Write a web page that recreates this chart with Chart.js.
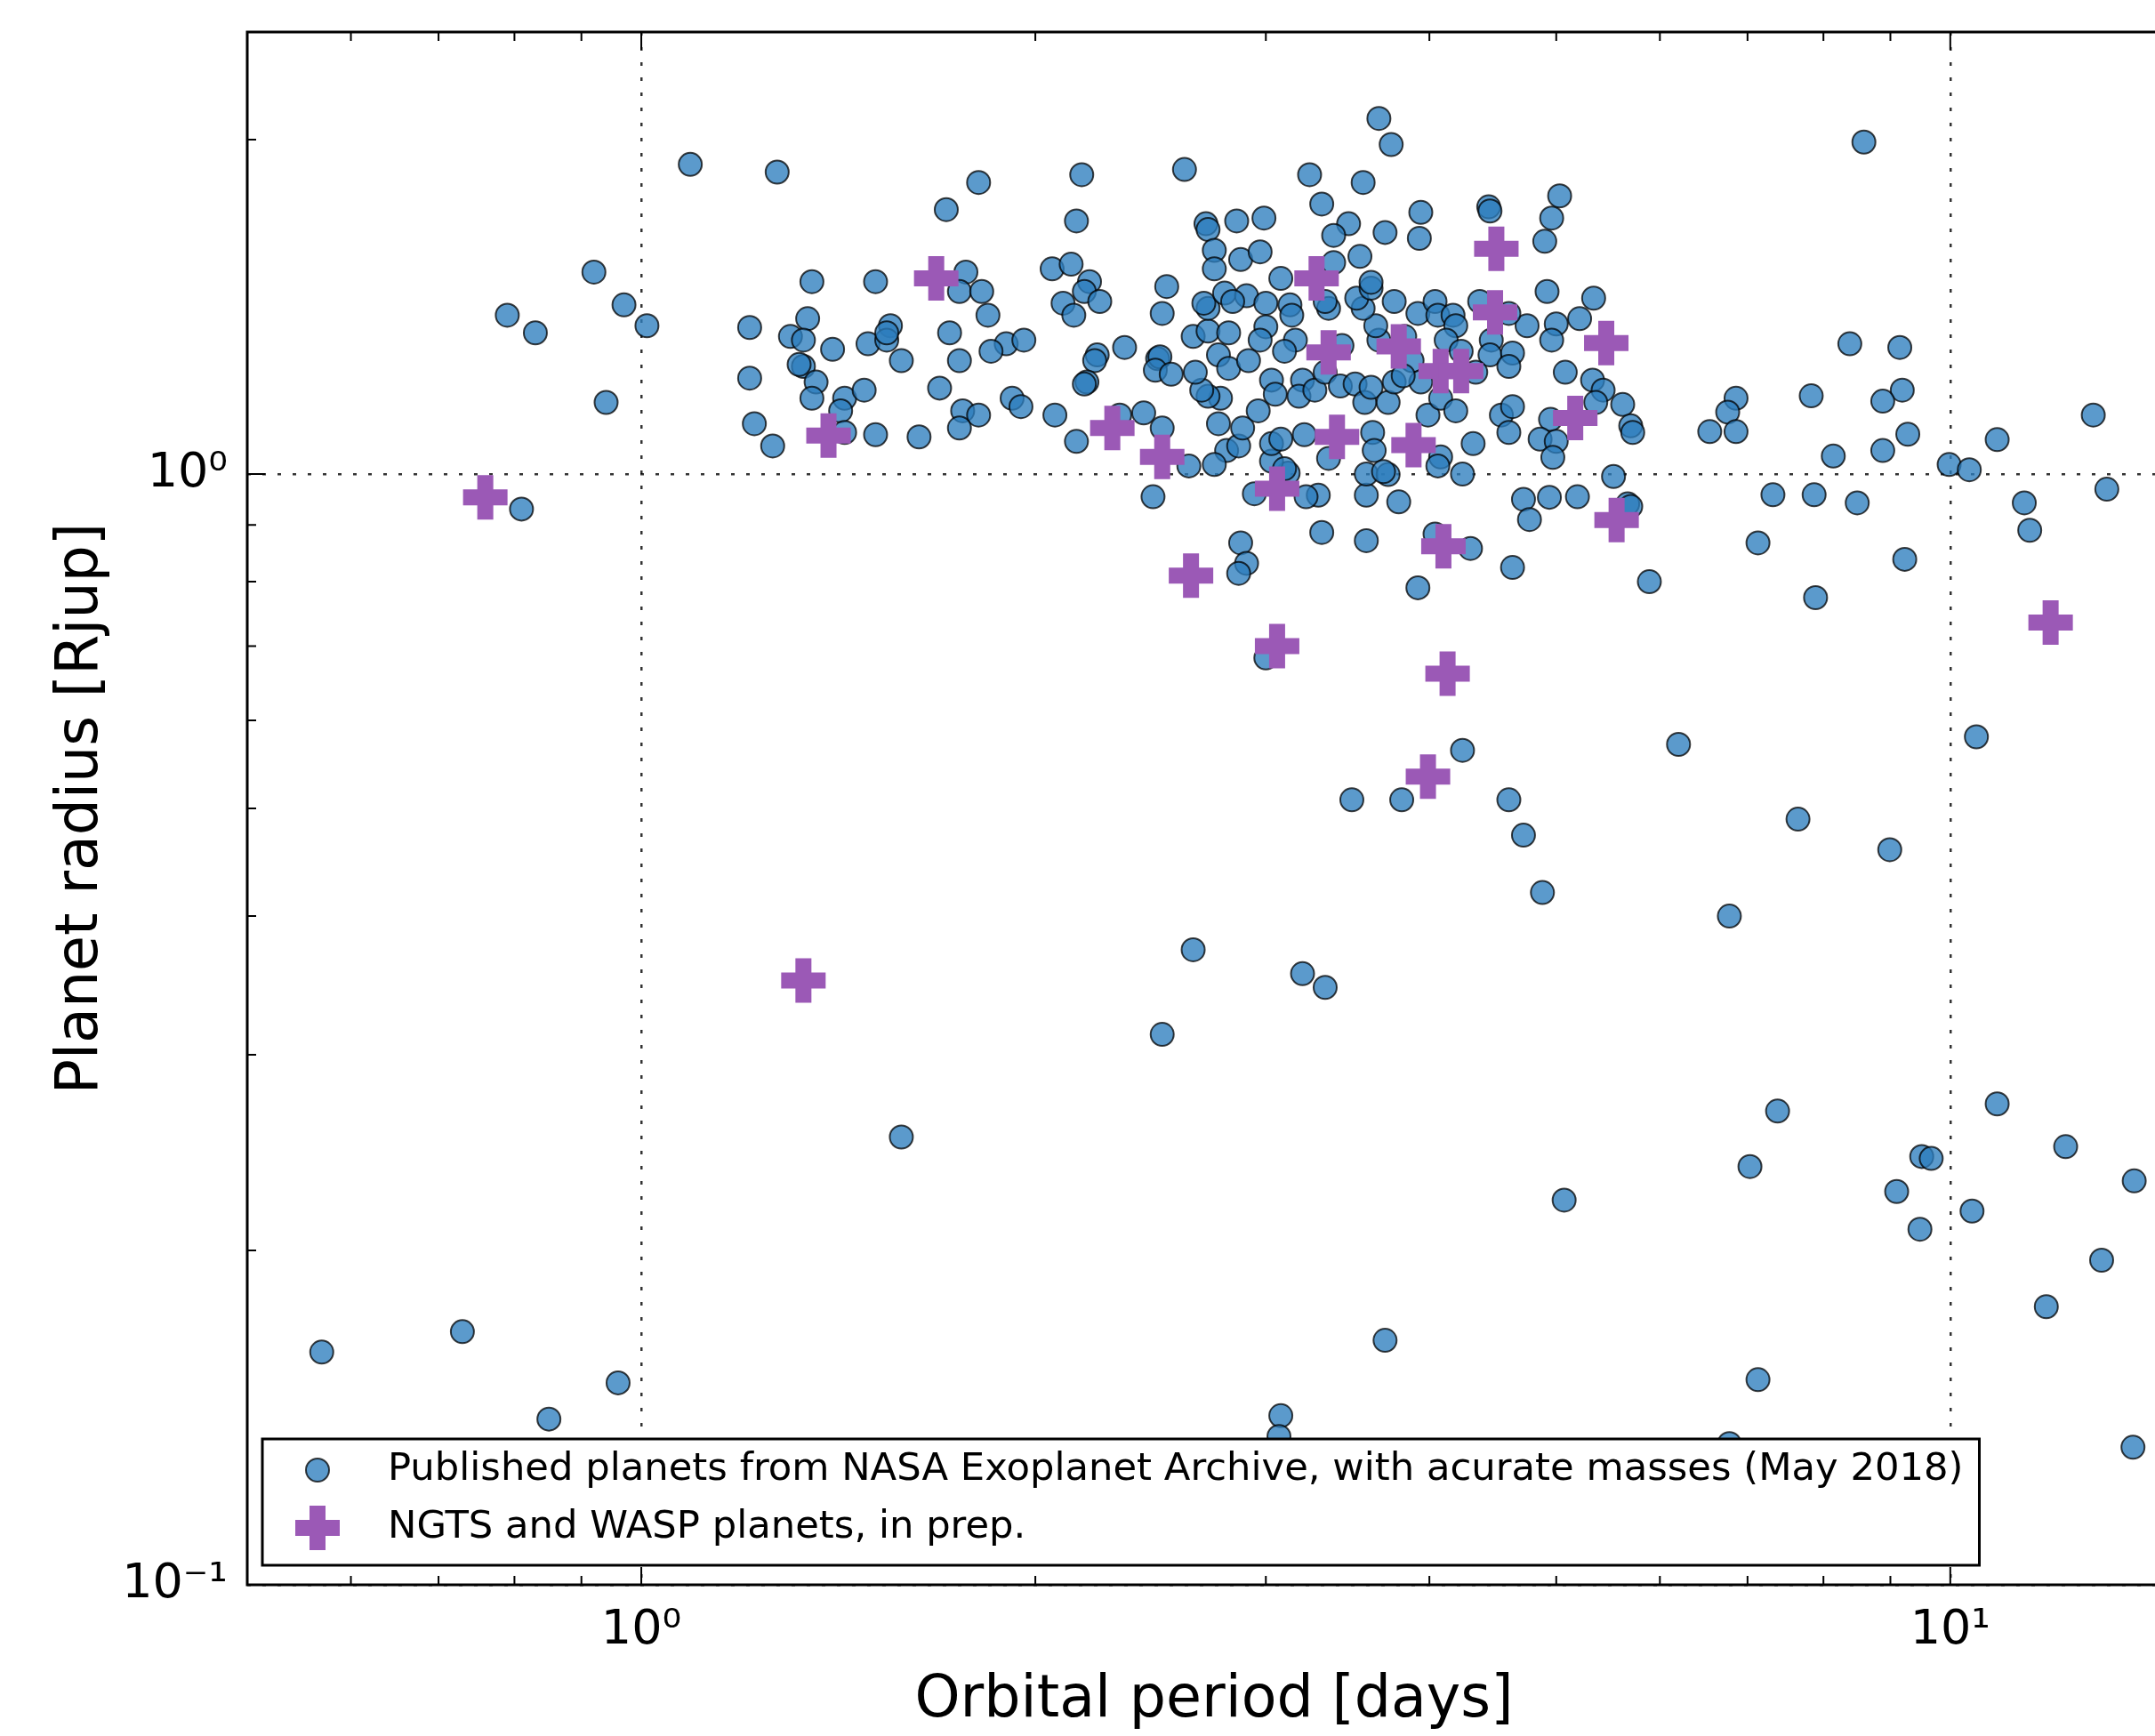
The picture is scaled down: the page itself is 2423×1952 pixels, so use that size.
<!DOCTYPE html>
<html>
<head>
<meta charset="utf-8">
<script src="https://cdn.jsdelivr.net/npm/chart.js@4.4.1/dist/chart.umd.min.js"></script>
<style>
  html, body { margin: 0; padding: 0; background: #fff; overflow: hidden; }
  canvas { display: block; }
</style>
</head>
<body>
<canvas id="grafico" width="2480" height="1952"></canvas>
<script>
// planetas publicados (NASA Exoplanet Archive): periodo [dias] e raio [Rjup]
const pubPeriod = [
  0.57, 0.73, 0.96, 0.85, 0.79, 0.83, 0.81, 0.92, 0.97, 1.01,
  0.94, 1.09, 1.27, 1.58, 2.64, 2.50, 3.20, 3.33, 3.08, 3.07,
  3.70, 5.07, 4.24, 3.49, 3.81, 4.60, 4.72, 4.88, 3.00, 6.20,
  6.78, 7.65, 8.99, 10.47, 7.38, 7.03, 9.51, 9.67, 9.10, 9.48,
  10.39, 10.86, 12.25, 13.82, 13.05, 11.84, 7.13, 6.78, 13.79, 12.86,
  13.17, 11.39, 11.50, 10.86, 9.98, 10.34, 8.59, 8.38, 9.15, 9.19,
  8.88, 9.28, 8.88, 8.14, 7.83, 8.49, 7.87, 7.32, 7.13, 7.89,
  9.23, 5.89, 6.86, 6.76, 6.86, 6.55, 3.66, 1.81, 1.71, 2.17,
  2.15, 2.60, 1.21, 1.35, 1.51, 1.34, 1.30, 1.33, 1.40, 1.49,
  1.55, 1.54, 1.54, 1.58, 1.21, 1.33, 1.32, 1.36, 1.35, 1.43,
  1.42, 1.48, 1.22, 1.26, 1.43, 1.51, 1.63, 1.77, 1.75, 1.82,
  1.84, 1.72, 1.75, 1.69, 1.90, 1.85, 1.96, 1.92, 1.95, 1.76,
  1.81, 1.75, 2.07, 2.15, 2.42, 2.50, 2.46, 2.06, 2.13, 2.20,
  2.18, 2.24, 2.10, 2.14, 2.23, 2.22, 2.34, 2.19, 2.18, 2.52,
  2.50, 2.48, 2.49, 2.47, 2.54, 2.32, 3.24, 3.56, 3.74, 3.31,
  3.47, 3.38, 3.70, 3.94, 3.93, 2.70, 2.71, 2.85, 2.99, 2.74,
  2.74, 2.87, 2.97, 3.54, 3.38, 3.08, 4.44, 4.45, 5.03, 4.96,
  4.90, 4.92, 5.34, 5.21, 5.00, 4.96, 4.75, 4.60, 4.37, 4.46,
  4.45, 4.63, 4.60, 5.08, 5.33, 5.43, 5.36, 5.62, 5.70, 5.72,
  4.95, 4.86, 5.00, 4.97, 5.53, 4.72, 4.94, 5.19, 4.77, 5.67,
  5.70, 4.63, 3.92, 4.04, 4.30, 3.31, 3.58, 2.87, 2.90, 2.86,
  2.94, 3.29, 3.22, 3.58, 3.79, 3.12, 3.03, 3.10, 2.80, 2.74,
  2.86, 2.62, 3.58, 3.72, 4.24, 4.08, 4.06, 4.32, 3.62, 3.63,
  3.35, 3.21, 3.03, 3.08, 2.76, 2.88, 2.96, 2.77, 2.71, 2.68,
  2.65, 2.64, 2.71, 2.81, 2.76, 2.81, 2.71, 2.69, 2.79, 2.90,
  2.83, 3.00, 3.13, 3.14, 3.00, 2.97, 2.91, 3.03, 3.05, 3.16,
  3.10, 3.20, 3.18, 3.27, 3.33, 3.43, 3.35, 3.33, 3.42, 3.51,
  3.57, 3.61, 3.72, 3.76, 3.66, 3.64, 3.56, 3.52, 3.61, 3.61,
  3.76, 3.83, 3.92, 4.04, 4.06, 4.17, 4.19, 4.12, 4.23, 3.88,
  3.94, 3.82, 4.34, 3.99, 4.08, 4.19, 4.54, 4.63, 4.60, 3.69
];
const pubRadius = [
  0.162, 0.169, 0.152, 0.141, 1.39, 1.34, 0.93, 1.52, 1.42, 1.36,
  1.16, 1.90, 1.87, 0.253, 0.373, 0.313, 0.355, 0.345, 0.142, 0.136,
  0.166, 0.222, 0.564, 0.509, 0.509, 0.509, 0.473, 0.420, 0.683, 0.571,
  0.400, 0.489, 0.459, 0.580, 0.267, 0.238, 0.243, 0.242, 0.226, 0.209,
  0.217, 0.271, 0.248, 0.231, 0.196, 0.178, 0.153, 0.134, 0.133, 1.13,
  0.969, 0.942, 0.890, 1.074, 1.02, 1.009, 1.99, 1.31, 1.30, 1.19,
  1.163, 1.086, 1.05, 1.038, 1.176, 0.942, 0.958, 0.958, 0.867, 0.774,
  0.838, 0.80, 1.17, 1.137, 1.092, 1.092, 2.09, 1.83, 1.73, 1.86,
  1.69, 1.88, 1.355, 1.49, 1.49, 1.38, 1.33, 1.32, 1.295, 1.31,
  1.36, 1.32, 1.34, 1.265, 1.22, 1.25, 1.255, 1.21, 1.17, 1.17,
  1.14, 1.19, 1.11, 1.06, 1.09, 1.085, 1.08, 1.52, 1.46, 1.46,
  1.39, 1.34, 1.265, 1.195, 1.31, 1.29, 1.32, 1.17, 1.15, 1.14,
  1.13, 1.10, 1.13, 1.07, 1.135, 1.10, 0.954, 1.53, 1.545, 1.49,
  1.46, 1.43, 1.425, 1.39, 1.28, 1.265, 1.30, 1.21, 1.205, 1.475,
  1.395, 1.27, 1.275, 1.24, 1.23, 1.13, 1.86, 1.83, 1.98, 1.75,
  1.68, 1.64, 1.65, 1.72, 1.63, 1.68, 1.66, 1.69, 1.70, 1.59,
  1.53, 1.56, 1.585, 1.57, 1.55, 1.50, 1.74, 1.725, 1.78, 1.70,
  1.62, 1.46, 1.44, 1.38, 1.365, 1.32, 1.36, 1.395, 1.43, 1.32,
  1.28, 1.285, 1.25, 1.235, 1.215, 1.19, 1.16, 1.155, 1.105, 1.09,
  1.12, 1.075, 1.07, 1.035, 0.995, 0.949, 0.953, 0.954, 0.91, 0.94,
  0.935, 0.824, 0.79, 0.883, 0.857, 0.886, 0.871, 0.867, 0.831, 0.814,
  0.96, 0.957, 0.954, 0.957, 0.944, 1.002, 1.027, 1.011, 1.05, 1.02,
  1.06, 1.017, 1.00, 0.999, 1.00, 1.036, 1.017, 1.065, 1.09, 1.05,
  1.033, 1.085, 1.065, 1.075, 1.11, 1.10, 1.14, 1.17, 1.175, 1.19,
  1.235, 1.33, 1.345, 1.34, 1.28, 1.245, 1.41, 1.425, 1.455, 1.447,
  1.43, 1.425, 1.42, 1.39, 1.357, 1.32, 1.265, 1.215, 1.18, 1.32,
  1.29, 1.215, 1.175, 1.19, 1.235, 1.305, 1.41, 1.43, 1.20, 1.205,
  1.16, 1.197, 1.16, 1.21, 1.32, 1.36, 1.41, 1.44, 1.47, 1.488,
  1.43, 1.33, 1.395, 1.43, 1.39, 1.39, 1.36, 1.32, 1.29, 1.265,
  1.21, 1.226, 1.235, 1.13, 1.17, 1.14, 1.13, 1.15, 1.09, 1.005
];

// planetas NGTS e WASP (em preparacao)
const newPeriod = [
  0.76, 1.33, 1.39, 1.68, 2.29, 2.50, 2.63, 3.06, 3.06, 3.28,
  3.35, 3.40, 3.79, 3.89, 4.08, 4.23, 4.10, 4.13, 3.99, 4.49,
  4.50, 5.17, 5.46, 5.56, 11.93
];
const newRadius = [
  0.953, 0.35, 1.083, 1.50, 1.10, 1.036, 0.81, 0.97, 0.70, 1.50,
  1.287, 1.08, 1.303, 1.062, 1.238, 1.238, 0.861, 0.661, 0.534, 1.398,
  1.595, 1.123, 1.312, 0.909, 0.735
];

// ticks dos eixos
const xTicks = [0.6, 0.7, 0.8, 0.9, 1, 2, 3, 4, 5, 6, 7, 8, 9, 10];
const xMajor = [1, 10];
const xLabels = ['10⁰', '10¹'];
const yTicks = [0.1, 0.2, 0.3, 0.4, 0.5, 0.6, 0.7, 0.8, 0.9, 1, 2];
const yMajor = [0.1, 1];
const yLabels = ['10⁻¹', '10⁰'];

const fonte = 'DejaVu Sans';
const azul = 'rgba(45,125,190,0.78)';
const roxo = '#9b59b6';

function pares(xs, ys) {
  return xs.map((x, i) => ({ x: x, y: ys[i] }));
}

// tira o espaco extra que o Chart.js reserva para os rotulos das pontas
function semPadding(s) {
  s.paddingTop = 0;
  s.paddingBottom = 0;
  s.paddingLeft = 0;
  s.paddingRight = 0;
}

// moldura e ticks para dentro, estilo matplotlib
const molduraPlugin = {
  id: 'moldura',
  afterDraw(chart) {
    const { ctx, chartArea: a, scales } = chart;
    ctx.save();
    ctx.strokeStyle = '#000';
    ctx.lineWidth = 2;
    scales.x.ticks.forEach(t => {
      const px = scales.x.getPixelForValue(t.value);
      const len = xMajor.includes(t.value) ? 20 : 10;
      ctx.beginPath();
      ctx.moveTo(px, a.bottom); ctx.lineTo(px, a.bottom - len);
      ctx.moveTo(px, a.top); ctx.lineTo(px, a.top + len);
      ctx.stroke();
    });
    scales.y.ticks.forEach(t => {
      const py = scales.y.getPixelForValue(t.value);
      const len = yMajor.includes(t.value) ? 20 : 10;
      ctx.beginPath();
      ctx.moveTo(a.left, py); ctx.lineTo(a.left + len, py);
      ctx.moveTo(a.right, py); ctx.lineTo(a.right - len, py);
      ctx.stroke();
    });
    ctx.lineWidth = 3;
    ctx.strokeRect(a.left, a.top, a.right - a.left, a.bottom - a.top);
    ctx.restore();
  }
};

// legenda dentro do grafico, canto inferior esquerdo
const legendaPlugin = {
  id: 'legenda',
  afterDraw(chart) {
    const { ctx, chartArea: a } = chart;
    const ds = chart.data.datasets;
    ctx.save();
    ctx.font = '43.3px "' + fonte + '"';
    const textoX = a.left + 158;
    const largura = Math.max(...ds.map(d => ctx.measureText(d.label).width));
    const x0 = a.left + 17, y0 = a.bottom - 164;
    const x1 = textoX + largura + 18, y1 = a.bottom - 22;
    ctx.fillStyle = '#fff';
    ctx.fillRect(x0, y0, x1 - x0, y1 - y0);
    ctx.lineWidth = 3;
    ctx.strokeStyle = '#000';
    ctx.strokeRect(x0, y0, x1 - x0, y1 - y0);
    ds.forEach((d, i) => {
      const cx = a.left + 79;
      const cy = y0 + 35 + i * 65;
      if (d.pointStyle === 'cross') {
        ctx.strokeStyle = d.borderColor;
        ctx.lineWidth = d.borderWidth;
        ctx.beginPath();
        ctx.moveTo(cx - d.pointRadius, cy); ctx.lineTo(cx + d.pointRadius, cy);
        ctx.moveTo(cx, cy - d.pointRadius); ctx.lineTo(cx, cy + d.pointRadius);
        ctx.stroke();
      } else {
        ctx.beginPath();
        ctx.arc(cx, cy, d.pointRadius, 0, Math.PI * 2);
        ctx.fillStyle = d.backgroundColor;
        ctx.fill();
        ctx.lineWidth = d.borderWidth;
        ctx.strokeStyle = d.borderColor;
        ctx.stroke();
      }
      ctx.fillStyle = '#000';
      ctx.textBaseline = 'middle';
      ctx.textAlign = 'left';
      ctx.fillText(d.label, textoX, cy);
    });
    ctx.restore();
  }
};

const ctx = document.getElementById('grafico').getContext('2d');
const chart = new Chart(ctx, {
  type: 'scatter',
  data: {
    datasets: [
      {
        label: 'Published planets from NASA Exoplanet Archive, with acurate masses (May 2018)',
        data: pares(pubPeriod, pubRadius),
        pointStyle: 'circle',
        pointRadius: 13,
        backgroundColor: azul,
        borderColor: 'rgba(0,0,0,0.75)',
        borderWidth: 2,
        order: 1
      },
      {
        label: 'NGTS and WASP planets, in prep.',
        data: pares(newPeriod, newRadius),
        pointStyle: 'cross',
        pointRadius: 25,
        backgroundColor: roxo,
        borderColor: roxo,
        borderWidth: 18,
        order: 0
      }
    ]
  },
  options: {
    responsive: false,
    animation: false,
    events: [],
    layout: { autoPadding: false, padding: { left: 0, top: 36, right: 28, bottom: 0 } },
    plugins: { legend: { display: false }, tooltip: { enabled: false } },
    scales: {
      x: {
        type: 'logarithmic',
        min: 0.5,
        max: 15,
        afterBuildTicks: s => { s.ticks = xTicks.map(v => ({ value: v })); },
        afterFit: s => { s.height = 170; semPadding(s); },
        grid: {
          drawTicks: false,
          lineWidth: 2.5,
          color: c => (c.tick && xMajor.includes(c.tick.value)) ? 'rgba(0,0,0,0.8)' : 'rgba(0,0,0,0)'
        },
        border: { display: false, dash: [4, 13] },
        ticks: {
          autoSkip: false,
          maxRotation: 0,
          padding: 20,
          color: '#000',
          font: { family: fonte, size: 54 },
          callback: v => { const i = xMajor.indexOf(v); return i >= 0 ? xLabels[i] : ''; }
        },
        title: {
          display: true,
          text: 'Orbital period [days]',
          color: '#000',
          font: { family: fonte, size: 65 },
          padding: { top: 0, bottom: 0 }
        }
      },
      y: {
        type: 'logarithmic',
        min: 0.1,
        max: 2.5,
        afterBuildTicks: s => { s.ticks = yTicks.map(v => ({ value: v })); },
        afterFit: s => { s.width = 278; semPadding(s); },
        grid: {
          drawTicks: false,
          lineWidth: 2.5,
          color: c => (c.tick && yMajor.includes(c.tick.value)) ? 'rgba(0,0,0,0.8)' : 'rgba(0,0,0,0)'
        },
        border: { display: false, dash: [4, 13] },
        ticks: {
          autoSkip: false,
          padding: 22,
          color: '#000',
          font: { family: fonte, size: 54 },
          callback: v => { const i = yMajor.indexOf(v); return i >= 0 ? yLabels[i] : ''; }
        },
        title: {
          display: true,
          text: 'Planet radius [Rjup]',
          color: '#000',
          font: { family: fonte, size: 65 },
          padding: { top: 53, bottom: 0 }
        }
      }
    }
  },
  plugins: [molduraPlugin, legendaPlugin]
});
</script>
</body>
</html>
